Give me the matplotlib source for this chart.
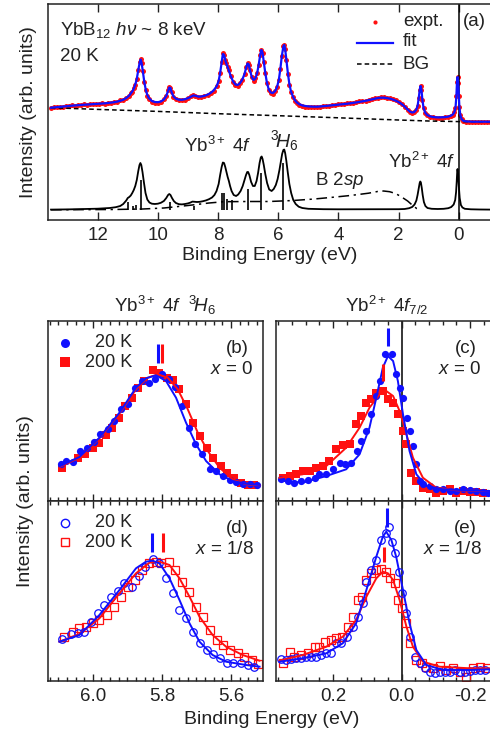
import numpy as np
import matplotlib
matplotlib.use('Agg')
import matplotlib.pyplot as plt

plt.rcParams['font.family'] = ['Liberation Sans', 'DejaVu Sans']
plt.rcParams['mathtext.fontset'] = 'custom'
plt.rcParams['mathtext.rm'] = 'Liberation Sans'
plt.rcParams['mathtext.it'] = 'Liberation Sans:italic'
plt.rcParams['axes.unicode_minus'] = False

TXT = '#222222'
RED = '#ff1010'
BLUE = '#1010ff'

# ---------------- (a) valence band, hv ~ 8 keV, 20 K ----------------
e_a = [13.55, 13.45, 13.35, 13.25, 13.15, 13.05, 12.95, 12.85, 12.75, 12.65,
       12.55, 12.45, 12.35, 12.25, 12.15, 12.05, 11.95, 11.85, 11.75, 11.65,
       11.55, 11.45, 11.35, 11.25, 11.15, 11.05, 10.95, 10.90, 10.85, 10.80,
       10.75, 10.70, 10.65, 10.60, 10.57, 10.54, 10.50, 10.45, 10.40, 10.35,
       10.30, 10.20, 10.10, 10.00, 9.90, 9.80, 9.72, 9.66, 9.62, 9.58,
       9.54, 9.48, 9.40, 9.30, 9.20, 9.10, 9.00, 8.90, 8.82, 8.75,
       8.65, 8.55, 8.45, 8.35, 8.25, 8.15, 8.05, 7.98, 7.93, 7.88,
       7.84, 7.80, 7.76, 7.72, 7.68, 7.64, 7.58, 7.50, 7.42, 7.35,
       7.28, 7.20, 7.12, 7.06, 7.02, 6.98, 6.94, 6.88, 6.82, 6.76,
       6.70, 6.65, 6.60, 6.56, 6.52, 6.48, 6.43, 6.38, 6.32, 6.25,
       6.18, 6.10, 6.04, 5.98, 5.93, 5.88, 5.83, 5.80, 5.77, 5.73,
       5.68, 5.63, 5.58, 5.52, 5.45, 5.38, 5.30, 5.20, 5.10, 5.00,
       4.90, 4.80, 4.70, 4.60, 4.50, 4.40, 4.30, 4.20, 4.10, 4.00,
       3.90, 3.80, 3.70, 3.60, 3.50, 3.40, 3.30, 3.20, 3.10, 3.00,
       2.90, 2.80, 2.70, 2.60, 2.50, 2.40, 2.30, 2.20, 2.10, 2.00,
       1.90, 1.80, 1.70, 1.62, 1.55, 1.48, 1.42, 1.37, 1.33, 1.30,
       1.27, 1.24, 1.21, 1.17, 1.12, 1.05, 0.95, 0.85, 0.75, 0.65,
       0.55, 0.45, 0.35, 0.27, 0.20, 0.15, 0.11, 0.08, 0.06, 0.04,
       0.02, 0.00, -0.02, -0.05, -0.09, -0.15, -0.25, -0.35, -0.45, -0.55,
       -0.65, -0.75, -0.85, -0.95, -1.05]
expt_a = [112.3, 112.8, 112.7, 113.4, 113.3, 114.1, 113.8, 114.6, 114.4, 115.1,
          114.8, 115.5, 115.2, 115.9, 115.6, 116.3, 115.9, 116.7, 116.4, 117.3,
          117.1, 118.1, 118.2, 119.5, 120.0, 122.3, 124.2, 126.8, 128.2, 131.8,
          135.2, 141.3, 149.6, 158.4, 160.8, 156.6, 149.3, 137.6, 129.6, 124.4,
          121.2, 117.9, 116.8, 116.9, 118.0, 120.9, 124.4, 129.5, 133.0, 131.6,
          127.9, 123.0, 121.0, 119.6, 119.9, 120.4, 121.6, 123.6, 124.9, 124.0,
          122.7, 123.1, 124.0, 125.0, 127.3, 129.2, 133.8, 139.4, 146.6, 158.4,
          166.5, 164.6, 160.4, 156.6, 152.6, 150.0, 143.6, 138.0, 135.1, 134.4,
          136.9, 139.6, 146.4, 152.6, 156.9, 155.1, 150.4, 142.6, 139.3, 141.9,
          146.6, 155.4, 164.6, 170.4, 166.6, 158.4, 146.6, 137.4, 130.4, 126.8,
          126.4, 128.6, 132.6, 140.4, 150.6, 164.4, 173.9, 175.4, 170.6, 160.4,
          146.4, 135.4, 128.4, 123.2, 119.2, 117.0, 115.0, 114.2, 113.4, 113.0,
          113.0, 112.8, 113.0, 113.1, 113.5, 113.9, 114.2, 114.6, 115.0, 115.6,
          115.9, 116.3, 116.6, 117.1, 117.4, 117.9, 118.5, 119.0, 119.4, 120.2,
          120.9, 121.6, 122.3, 122.8, 122.6, 122.4, 121.6, 121.0, 119.6, 118.2,
          116.1, 113.2, 110.1, 107.8, 107.0, 107.6, 109.7, 114.0, 122.4, 130.4,
          134.4, 130.3, 120.4, 111.6, 107.0, 104.6, 103.2, 102.6, 102.3, 102.2,
          102.4, 102.6, 103.1, 104.0, 105.2, 107.6, 112.3, 124.4, 138.4, 143.4,
          137.3, 124.2, 112.6, 104.7, 100.7, 98.9, 98.4, 98.2, 98.1, 98.2,
          98.2, 98.1, 98.2, 98.1, 98.2]
fit_a = [112.3, 112.6, 112.9, 113.2, 113.5, 113.8, 114.0, 114.3, 114.6, 114.8,
         115.0, 115.2, 115.4, 115.6, 115.8, 116.0, 116.2, 116.4, 116.7, 117.0,
         117.4, 117.8, 118.4, 119.2, 120.3, 122.0, 124.5, 126.5, 128.5, 131.5,
         135.5, 141.0, 150.0, 158.0, 160.5, 157.0, 149.0, 138.0, 130.0, 125.0,
         122.0, 119.0, 118.0, 117.8, 118.5, 120.5, 124.0, 129.0, 132.5, 132.0,
         127.5, 123.5, 121.3, 120.3, 120.2, 120.8, 121.8, 123.3, 124.5, 124.2,
         123.3, 123.5, 124.2, 125.3, 127.0, 129.5, 133.5, 139.0, 147.0, 158.0,
         166.0, 165.0, 160.0, 156.0, 153.0, 149.5, 144.0, 138.5, 135.5, 135.0,
         136.5, 140.0, 146.0, 153.0, 156.5, 155.5, 150.0, 143.0, 140.0, 141.5,
         147.0, 155.0, 165.0, 170.0, 167.0, 158.0, 147.0, 138.0, 131.0, 127.5,
         127.0, 129.0, 133.0, 140.0, 151.0, 164.0, 173.5, 175.0, 171.0, 160.0,
         147.0, 136.0, 129.0, 124.0, 120.0, 117.5, 115.8, 114.6, 114.0, 113.6,
         113.4, 113.3, 113.3, 113.5, 113.8, 114.1, 114.4, 114.8, 115.1, 115.4,
         115.7, 116.0, 116.3, 116.7, 117.1, 117.6, 118.1, 118.6, 119.2, 119.8,
         120.5, 121.2, 121.9, 122.3, 122.3, 122.0, 121.4, 120.6, 119.4, 118.0,
         116.0, 113.5, 110.5, 108.3, 107.5, 108.0, 110.0, 114.0, 122.0, 130.0,
         134.0, 130.0, 120.0, 112.0, 107.5, 105.0, 103.6, 103.0, 102.7, 102.6,
         102.7, 102.9, 103.4, 104.2, 105.5, 107.5, 112.0, 124.0, 138.0, 143.0,
         137.0, 124.0, 113.0, 105.0, 101.0, 99.2, 98.6, 98.4, 98.3, 98.3,
         98.3, 98.3, 98.3, 98.3, 98.3]

e_bg = [13.55, 12.0, 10.0, 8.0, 6.0, 4.0, 2.0, 1.0, 0.0, -1.05]
bg_a = [112.3, 110.6, 108.6, 106.3, 104.3, 102.2, 100.0, 99.0, 98.4, 98.2]

# Yb 4f component sum (lower trace)
e_comp = [13.55, 13.0, 12.5, 12.0, 11.6, 11.4, 11.25, 11.15, 11.05, 11.0,
          10.95, 10.9, 10.85, 10.8, 10.75, 10.70, 10.65, 10.61, 10.58, 10.55,
          10.51, 10.46, 10.41, 10.35, 10.28, 10.20, 10.10, 10.00, 9.90, 9.80,
          9.72, 9.66, 9.62, 9.58, 9.53, 9.47, 9.40, 9.30, 9.20, 9.10,
          9.00, 8.92, 8.85, 8.78, 8.70, 8.60, 8.50, 8.40, 8.30, 8.20,
          8.12, 8.05, 7.98, 7.93, 7.88, 7.84, 7.80, 7.76, 7.72, 7.68,
          7.64, 7.60, 7.55, 7.48, 7.40, 7.33, 7.25, 7.18, 7.12, 7.07,
          7.03, 7.00, 6.96, 6.90, 6.84, 6.78, 6.72, 6.67, 6.62, 6.58,
          6.55, 6.52, 6.48, 6.43, 6.37, 6.30, 6.22, 6.15, 6.08, 6.02,
          5.96, 5.91, 5.87, 5.83, 5.80, 5.77, 5.73, 5.68, 5.63, 5.57,
          5.50, 5.42, 5.32, 5.20, 5.00, 4.5, 4.0, 3.0, 2.0, 1.8,
          1.65, 1.55, 1.47, 1.41, 1.37, 1.33, 1.30, 1.28, 1.26, 1.23,
          1.20, 1.16, 1.11, 1.04, 0.9, 0.7, 0.5, 0.35, 0.25, 0.17,
          0.12, 0.09, 0.07, 0.05, 0.04, 0.02, 0.00, -0.03, -0.07, -0.12,
          -0.2, -0.4, -0.7, -1.05]
comp_a = [10.4, 10.6, 10.9, 11.3, 12.0, 12.8, 14.0, 16.0, 19.5, 22.0,
          23.0, 24.5, 27.0, 30.0, 34.0, 40.0, 49.0, 55.0, 57.0, 55.0,
          48.0, 37.0, 27.0, 20.5, 17.5, 16.3, 16.0, 16.3, 17.2, 19.0,
          22.0, 25.0, 26.0, 25.0, 22.0, 19.0, 17.0, 15.8, 15.6, 16.0,
          16.6, 17.4, 18.4, 18.2, 18.0, 18.2, 18.8, 19.6, 20.8, 22.5,
          25.0, 29.0, 36.0, 45.0, 53.0, 57.5, 57.0, 53.0, 48.0, 43.0,
          39.0, 34.0, 29.0, 25.0, 24.0, 25.5, 29.0, 34.0, 40.0, 45.0,
          48.0, 48.0, 45.0, 38.0, 34.0, 34.0, 39.0, 47.0, 57.0, 62.5,
          63.5, 61.0, 55.0, 46.0, 37.0, 30.5, 29.0, 31.0, 35.0, 41.0,
          50.0, 59.0, 66.0, 70.0, 70.5, 67.0, 59.0, 47.0, 36.0, 27.0,
          20.0, 16.0, 13.3, 12.0, 11.2, 10.8, 10.7, 10.7, 10.8, 11.0,
          11.8, 13.0, 15.5, 19.5, 25.0, 32.0, 37.0, 38.5, 37.5, 32.0,
          25.0, 18.0, 14.0, 12.0, 11.2, 11.0, 11.2, 11.8, 13.0, 15.5,
          20.0, 28.0, 38.0, 50.0, 51.0, 45.0, 34.0, 22.0, 15.0, 12.5,
          11.2, 10.7, 10.5, 10.4]

# multiplet line positions and heights
e_stick = [10.98, 10.83, 10.72, 10.56, 9.60, 8.79, 7.86, 7.80, 7.70, 7.55, 6.99, 6.56, 5.84]
h_stick = [18.3, 14.0, 15.0, 40.0, 18.3, 14.0, 27.3, 26.7, 21.0, 20.0, 31.0, 46.7, 56.7]
stick_base = 10.4

# B 2sp contribution
e_b2sp = [13.55, 11.5, 10.5, 9.8, 9.0, 8.3, 7.8, 7.0, 6.3, 5.5, 4.8, 4.2,
          3.6, 3.0, 2.7, 2.5, 2.3, 2.1, 1.9, 1.7, 1.55, 1.4, 1.3]
b2sp_a = [10.2, 10.5, 11.0, 12.0, 14.5, 17.0, 18.3, 18.5, 18.5, 19.5, 21.0, 22.7,
          24.5, 26.8, 28.5, 29.0, 28.3, 26.5, 23.0, 19.0, 15.0, 11.5, 10.5]

# ---------------- (b) x = 0, Yb3+ 3H6 ----------------
e_b20 = [6.092, 6.078, 6.059, 6.037, 6.017, 5.998, 5.978, 5.957, 5.938, 5.918,
         5.899, 5.877, 5.857, 5.838, 5.819, 5.799, 5.780, 5.761, 5.741, 5.722,
         5.703, 5.683, 5.662, 5.643, 5.624, 5.604, 5.585, 5.564, 5.544, 5.524]
i_b20 = [37.3, 40.0, 39.0, 50.0, 53.3, 59.0, 67.3, 72.3, 80.0, 91.7,
         97.3, 112.7, 120.0, 118.3, 122.3, 127.3, 121.7, 114.0, 95.0, 73.3,
         57.3, 47.3, 32.3, 30.0, 25.0, 20.7, 19.0, 17.3, 16.7, 16.0]
e_b200 = [6.088, 6.044, 6.022, 6.001, 5.983, 5.962, 5.944, 5.925, 5.906, 5.886,
          5.870, 5.851, 5.827, 5.807, 5.786, 5.767, 5.749, 5.730, 5.711, 5.691,
          5.670, 5.651, 5.630, 5.611, 5.590, 5.570, 5.551, 5.532]
i_b200 = [32.7, 42.7, 47.3, 53.3, 58.3, 66.0, 73.3, 83.3, 95.0, 103.3,
          113.3, 120.0, 130.7, 128.3, 123.3, 120.7, 111.7, 96.7, 78.3, 65.0,
          53.3, 43.3, 35.0, 28.3, 23.3, 18.3, 16.0, 16.0]
e_bfit = [6.097, 6.039, 5.981, 5.923, 5.875, 5.846, 5.817, 5.788, 5.759, 5.730,
          5.701, 5.672, 5.633, 5.595, 5.556, 5.517]
f_b20 = [34.7, 44.0, 63.3, 88.3, 113.3, 122.7, 125.7, 120.0, 103.3, 78.3,
         56.7, 40.0, 26.7, 20.0, 17.3, 16.0]
e_bfit200 = [6.097, 6.039, 5.981, 5.923, 5.875, 5.841, 5.812, 5.783, 5.754, 5.725,
             5.696, 5.667, 5.633, 5.595, 5.556, 5.517]
f_b200 = [34.0, 43.3, 62.7, 87.3, 111.7, 123.3, 126.7, 123.3, 111.7, 91.7,
          68.3, 50.0, 33.3, 21.7, 16.7, 15.7]
pk_b = [5.810, 5.801]

# ---------------- (c) x = 0, Yb2+ 4f7/2 ----------------
e_c20 = [0.352, 0.332, 0.313, 0.293, 0.274, 0.254, 0.240, 0.220, 0.201, 0.181,
         0.164, 0.147, 0.131, 0.118, 0.103, 0.089, 0.076, 0.064, 0.050, 0.027,
         0.016, 0.004, -0.004, -0.016, -0.023, -0.033, -0.043, -0.053, -0.062, -0.082,
         -0.101, -0.121, -0.140, -0.160, -0.179, -0.199, -0.218, -0.238, -0.252]
i_c20 = [21.7, 20.0, 18.3, 20.0, 20.7, 23.3, 27.3, 26.7, 31.7, 38.3,
         37.3, 38.3, 50.0, 60.0, 70.0, 86.7, 105.0, 120.0, 147.3, 147.3,
         126.7, 113.3, 103.3, 83.3, 70.0, 55.0, 36.7, 20.0, 16.7, 15.0,
         11.7, 11.7, 10.0, 10.0, 11.7, 10.7, 10.0, 9.3, 8.3]
e_c200 = [0.347, 0.327, 0.308, 0.289, 0.269, 0.250, 0.230, 0.211, 0.191, 0.172,
          0.152, 0.133, 0.118, 0.103, 0.089, 0.074, 0.055, 0.040, 0.025, 0.011,
          -0.004, -0.014, -0.028, -0.043, -0.062, -0.082, -0.101, -0.121, -0.140, -0.160,
          -0.179, -0.199, -0.218, -0.238]
i_c200 = [23.3, 25.0, 26.7, 30.0, 30.0, 33.3, 35.0, 40.0, 51.7, 56.0,
          56.7, 76.7, 85.0, 98.3, 101.7, 108.3, 110.0, 101.7, 98.3, 86.7,
          70.0, 56.7, 28.3, 20.0, 13.3, 11.7, 8.3, 10.0, 11.7, 8.3,
          10.0, 9.3, 9.0, 8.3]
e_cfit = [0.357, 0.289, 0.220, 0.162, 0.123, 0.094, 0.074, 0.055, 0.040, 0.025,
          0.011, -0.004, -0.023, -0.043, -0.072, -0.121, -0.199, -0.257]
f_c20 = [20.7, 18.3, 25.0, 31.7, 46.7, 73.3, 103.3, 133.3, 145.0, 140.0,
         120.0, 86.7, 50.0, 26.7, 15.0, 11.7, 10.7, 10.0]
e_cfit200 = [0.357, 0.289, 0.220, 0.162, 0.123, 0.094, 0.064, 0.045, 0.025, 0.006,
             -0.014, -0.033, -0.062, -0.101, -0.160, -0.257]
f_c200 = [23.3, 26.7, 35.0, 53.3, 73.3, 93.3, 106.7, 110.0, 105.0, 90.0,
          66.7, 43.3, 23.3, 13.3, 10.7, 10.0]
pk_c = [0.040, 0.055]

# ---------------- (d) x = 1/8, Yb3+ 3H6 ----------------
e_d20 = [6.088, 6.063, 6.044, 6.025, 6.005, 5.986, 5.967, 5.947, 5.928, 5.909,
         5.886, 5.867, 5.848, 5.827, 5.807, 5.788, 5.769, 5.749, 5.730, 5.711,
         5.689, 5.670, 5.651, 5.631, 5.612, 5.593, 5.570, 5.551, 5.532]
i_d20 = [41.7, 47.0, 47.7, 49.3, 59.3, 67.7, 76.0, 83.7, 90.3, 98.3,
         94.3, 105.0, 114.3, 121.7, 117.7, 102.7, 87.7, 71.0, 62.7, 49.3,
         37.7, 31.0, 27.0, 22.7, 18.3, 17.7, 17.7, 16.0, 14.3]
e_d200 = [6.083, 6.059, 6.039, 6.020, 6.001, 5.981, 5.959, 5.938, 5.918, 5.899,
          5.877, 5.857, 5.838, 5.817, 5.802, 5.780, 5.761, 5.741, 5.722, 5.701,
          5.682, 5.662, 5.641, 5.622, 5.602, 5.580, 5.561, 5.539, 5.522]
i_d200 = [44.3, 49.3, 52.7, 54.3, 57.7, 61.0, 66.0, 74.3, 84.3, 94.3,
          101.0, 111.0, 118.3, 119.3, 117.7, 119.3, 111.0, 99.3, 89.3, 74.3,
          64.3, 51.0, 41.0, 36.0, 31.0, 27.7, 24.3, 21.0, 17.0]
e_dfit = [6.097, 6.039, 5.981, 5.923, 5.875, 5.846, 5.827, 5.807, 5.778, 5.749,
          5.720, 5.691, 5.653, 5.614, 5.556, 5.517]
f_d20 = [39.3, 46.0, 66.0, 91.0, 112.7, 119.3, 120.3, 117.7, 102.7, 81.0,
         57.7, 39.3, 26.0, 19.3, 16.0, 14.3]
e_dfit200 = [6.097, 6.039, 5.981, 5.923, 5.875, 5.836, 5.807, 5.778, 5.749, 5.720,
             5.691, 5.653, 5.614, 5.566, 5.517]
f_d200 = [39.3, 47.0, 62.7, 87.7, 107.7, 118.3, 119.3, 116.0, 102.7, 84.3,
          64.3, 46.0, 34.3, 26.0, 20.3]
pk_d = [5.828, 5.798]

# ---------------- (e) x = 1/8, Yb2+ 4f7/2 ----------------
e_e20 = [0.352, 0.337, 0.323, 0.308, 0.293, 0.279, 0.264, 0.250, 0.235, 0.220,
         0.206, 0.191, 0.176, 0.160, 0.142, 0.128, 0.113, 0.103, 0.089, 0.076,
         0.061, 0.047, 0.037, 0.027, 0.018, 0.008, -0.002, -0.012, -0.023, -0.038,
         -0.053, -0.067, -0.082, -0.096, -0.111, -0.126, -0.140, -0.155, -0.170, -0.184,
         -0.199, -0.213, -0.228, -0.243]
i_e20 = [21.7, 21.0, 21.7, 22.7, 23.3, 24.3, 24.3, 24.3, 26.0, 27.7,
         28.3, 37.7, 37.7, 44.3, 54.3, 64.3, 77.7, 99.3, 111.0, 121.0,
         141.0, 147.7, 154.3, 139.3, 127.7, 109.3, 87.7, 67.7, 44.3, 24.3,
         17.7, 12.7, 9.3, 8.3, 9.3, 9.3, 9.3, 11.0, 9.3, 9.3,
         10.0, 11.0, 11.0, 11.0]
e_e200 = [0.347, 0.327, 0.313, 0.293, 0.274, 0.254, 0.240, 0.225, 0.206, 0.191,
          0.173, 0.157, 0.142, 0.128, 0.115, 0.103, 0.089, 0.074, 0.059, 0.045,
          0.033, 0.020, 0.011, -0.002, -0.012, -0.023, -0.041, -0.058, -0.072, -0.092,
          -0.111, -0.131, -0.150, -0.170, -0.189, -0.208, -0.228, -0.248]
i_e200 = [17.7, 29.3, 24.3, 26.0, 27.7, 34.3, 34.3, 39.3, 41.0, 42.7,
          44.3, 54.3, 64.3, 81.0, 84.3, 101.0, 107.7, 111.0, 111.7, 109.3,
          102.7, 97.7, 81.0, 72.7, 57.7, 37.7, 21.0, 17.7, 14.3, 12.7,
          15.0, 11.0, 12.7, 9.3, 4.3, 12.7, 14.3, 12.7]
e_efit = [0.357, 0.289, 0.220, 0.172, 0.133, 0.103, 0.074, 0.055, 0.045, 0.030,
          0.016, -0.004, -0.023, -0.043, -0.072, -0.121, -0.199, -0.257]
f_e20 = [19.3, 22.7, 27.7, 37.7, 57.7, 91.0, 124.3, 144.3, 149.3, 141.0,
         124.3, 91.0, 57.7, 31.0, 16.0, 11.0, 11.0, 11.7]
e_efit200 = [0.357, 0.289, 0.220, 0.172, 0.133, 0.103, 0.074, 0.055, 0.040, 0.025,
             0.006, -0.014, -0.033, -0.062, -0.111, -0.199, -0.257]
f_e200 = [20.3, 26.0, 34.3, 44.3, 61.0, 84.3, 102.7, 109.3, 107.7, 101.0,
          81.0, 54.3, 34.3, 19.3, 14.3, 12.7, 12.7]
pk_e = [0.043, 0.051]


def style_axis(ax, major, minor=None, ticklen=5.5):
    ax.set_yticks([])
    ax.set_xticks(major)
    if minor is not None:
        ax.set_xticks(minor, minor=True)
    ax.tick_params(axis='x', which='both', direction='in', top=True, bottom=True,
                   width=1.0, colors=TXT, labelsize=13.5, pad=5)
    ax.tick_params(axis='x', which='major', length=ticklen)
    ax.tick_params(axis='x', which='minor', length=3.2)
    for s in ax.spines.values():
        s.set_linewidth(1.1)
        s.set_color(TXT)


fig = plt.figure(figsize=(4.9, 7.36), dpi=100)
W, H = 490.0, 736.0


def add_ax(x0, y_top, x1, y_bot):
    return fig.add_axes([x0 / W, 1 - y_bot / H, (x1 - x0) / W, (y_bot - y_top) / H])


# ---- panel (a)
ax = add_ax(48, 4, 491, 220)
ax.plot(e_a, expt_a, 'o', color=RED, ms=3.6, mew=0, zorder=2)
ax.plot(e_a, fit_a, '-', color=BLUE, lw=1.6, zorder=3)
ax.plot(e_bg, bg_a, color='black', lw=1.1, ls=(0, (3, 2)), zorder=2)
ax.plot(e_b2sp, b2sp_a, color='black', lw=1.1, ls=(0, (7, 3, 1.5, 3)))
ax.plot(e_comp, comp_a, color='black', lw=1.3)
ax.vlines(e_stick, stick_base, h_stick, color='black', lw=1.2)
ax.axvline(0, color='black', lw=1.1)
ax.set_xlim(13.65, -1.07)
ax.set_ylim(0, 216)
style_axis(ax, [12, 10, 8, 6, 4, 2, 0])
ax.set_xlabel('Binding Energy (eV)', fontsize=14, color=TXT, labelpad=2)
ax.set_ylabel('Intensity (arb. units)', fontsize=14, color=TXT, labelpad=8)

ax.text(0.027, 0.88, r'YbB$_{12}$ $h\nu$ ~ 8 keV', transform=ax.transAxes,
        fontsize=13.5, color=TXT, va='center')
ax.text(0.027, 0.755, '20 K', transform=ax.transAxes, fontsize=13.5, color=TXT, va='center')
ax.text(0.962, 0.917, '(a)', transform=ax.transAxes, fontsize=13.5, color=TXT,
        ha='center', va='center')
# legend drawn by hand
ax.plot([0.738], [0.918], 'o', color=RED, ms=3.0, mew=0, transform=ax.transAxes)
ax.plot([0.6975, 0.779], [0.82, 0.82], color=BLUE, lw=1.6, transform=ax.transAxes)
ax.plot([0.6975, 0.779], [0.72, 0.72], color='black', lw=1.1, ls=(0, (3, 2)),
        transform=ax.transAxes)
for yy, lab in zip([0.918, 0.825, 0.72], ['expt.', 'fit', 'BG']):
    ax.text(0.801, yy, lab, transform=ax.transAxes, fontsize=13.5, color=TXT, va='center')

ax.text(8.0, 68, r'Yb$^{3+}$ 4$f$', fontsize=13.5, color=TXT, ha='center', va='baseline')
ax.text(6.29, 73, r'$^{3}\!H_{6}$', fontsize=14, color=TXT, ha='left', va='baseline')
ax.text(4.77, 35, r'B 2$sp$', fontsize=13.5, color=TXT, ha='left', va='baseline')
ax.text(2.34, 52, r'Yb$^{2+}$ 4$f$', fontsize=13.5, color=TXT, ha='left', va='baseline')

# ---- panels (b)-(e)
axb = add_ax(48, 321, 263, 501)
axd = add_ax(48, 501, 263, 681)
axc = add_ax(276, 321, 491, 501)
axe = add_ax(276, 501, 491, 681)

minor_l = [6.125 - 0.025 * k for k in range(25)]
minor_r = [0.36 - 0.04 * k for k in range(16)]


def draw_pair(ax, e20, i20, e200, i200, ef20, f20, ef200, f200, pk, open_marks, pk_y):
    if open_marks:
        ax.plot(e200, i200, 's', ms=5.4, mfc='none', mec=RED, mew=0.9, zorder=2)
        ax.plot(e20, i20, 'o', ms=5.4, mfc='none', mec=BLUE, mew=0.9, zorder=3)
    else:
        ax.plot(e200, i200, 's', ms=5.2, color=RED, mew=0, zorder=2)
        ax.plot(e20, i20, 'o', ms=5.2, color=BLUE, mew=0, zorder=3)
    ax.plot(ef200, f200, '-', color=RED, lw=1.4, zorder=4)
    ax.plot(ef20, f20, '-', color=BLUE, lw=1.4, zorder=5)
    ax.vlines([pk[0]], pk_y[0][0], pk_y[0][1], color=BLUE, lw=2.2, zorder=6)
    ax.vlines([pk[1]], pk_y[1][0], pk_y[1][1], color=RED, lw=2.2, zorder=6)
    ax.set_ylim(0, 180)


draw_pair(axb, e_b20, i_b20, e_b200, i_b200, e_bfit, f_b20, e_bfit200, f_b200, pk_b,
          False, [(138, 157), (138, 157)])
draw_pair(axd, e_d20, i_d20, e_d200, i_d200, e_dfit, f_d20, e_dfit200, f_d200, pk_d,
          True, [(129, 148), (129, 148)])
draw_pair(axc, e_c20, i_c20, e_c200, i_c200, e_cfit, f_c20, e_cfit200, f_c200, pk_c,
          False, [(155, 173), (120, 137)])
draw_pair(axe, e_e20, i_e20, e_e200, i_e200, e_efit, f_e20, e_efit200, f_e200, pk_e,
          True, [(154, 173), (119, 134)])

for a in (axb, axd):
    a.set_xlim(6.13, 5.507)
    style_axis(a, [6.0, 5.8, 5.6], minor_l, ticklen=4.8)
for a in (axc, axe):
    a.set_xlim(0.367, -0.261)
    a.axvline(0, color='black', lw=1.1, zorder=1)
    style_axis(a, [0.2, 0.0, -0.2], minor_r, ticklen=4.8)
axb.tick_params(labelbottom=False)
axc.tick_params(labelbottom=False)
axd.set_xticklabels(['6.0', '5.8', '5.6'])
axe.set_xticklabels(['0.2', '0.0', '-0.2'])

axb.text(0.544, 1.05, r'Yb$^{3+}$ 4$f$  $^{3}\!H_{6}$', transform=axb.transAxes,
         fontsize=13.5, color=TXT, ha='center', va='baseline')
axc.text(0.516, 1.05, r'Yb$^{2+}$ 4$f_{7/2}$', transform=axc.transAxes,
         fontsize=13.5, color=TXT, ha='center', va='baseline')

for a, tag, xs in [(axb, '(b)', '$x$ = 0'), (axd, '(d)', '$x$ = 1/8'),
                   (axc, '(c)', '$x$ = 0'), (axe, '(e)', '$x$ = 1/8')]:
    a.text(0.933, 0.845, tag, transform=a.transAxes, fontsize=13.5, color=TXT,
           ha='right', va='center')
    a.text(0.956, 0.73, xs, transform=a.transAxes, fontsize=13.5, color=TXT,
           ha='right', va='center')

# temperature legends for (b) and (d)
for a, open_marks in [(axb, False), (axd, True)]:
    if open_marks:
        a.plot([0.079], [0.88], 'o', ms=6, mfc='none', mec=BLUE, mew=1.0, transform=a.transAxes)
        a.plot([0.079], [0.77], 's', ms=6, mfc='none', mec=RED, mew=1.0, transform=a.transAxes)
    else:
        a.plot([0.079], [0.88], 'o', ms=6.5, color=BLUE, mew=0, transform=a.transAxes)
        a.plot([0.079], [0.77], 's', ms=6.5, color=RED, mew=0, transform=a.transAxes)
    a.text(0.39, 0.88, '20 K', transform=a.transAxes, fontsize=13, color=TXT,
           ha='right', va='center')
    a.text(0.39, 0.77, '200 K', transform=a.transAxes, fontsize=13, color=TXT,
           ha='right', va='center')

fig.text(272 / W, 1 - 720 / H, 'Binding Energy (eV)', fontsize=14, color=TXT,
         ha='center', va='center')
fig.text(25 / W, 1 - 501 / H, 'Intensity (arb. units)', fontsize=14, color=TXT,
         ha='center', va='center', rotation=90)

fig.savefig('out.png', dpi=100)
